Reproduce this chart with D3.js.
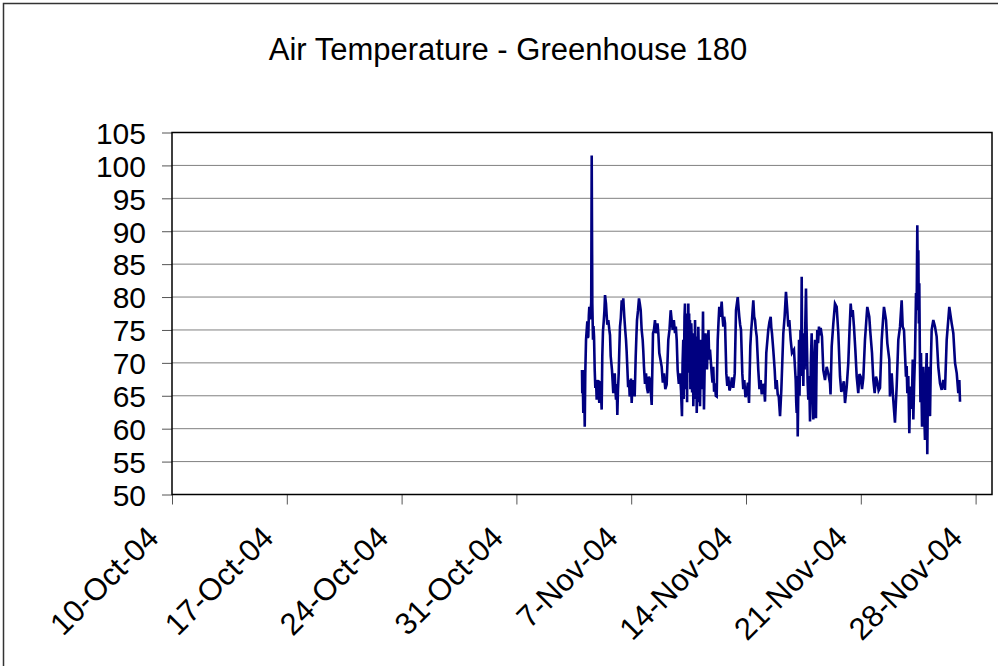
<!DOCTYPE html>
<html>
<head>
<meta charset="utf-8">
<script src="https://cdn.jsdelivr.net/npm/d3@7/dist/d3.min.js"></script>
<style>
	html, body { margin:0; padding:0; background:#fff; overflow:hidden; }
	svg text { font-family: "Liberation Sans", Arial, sans-serif; fill:#000; }
</style>
</head>
<body>
<svg id="chart" width="998" height="666"></svg>
<script>
// chart text
var title = 'Air Temperature - Greenhouse 180';

// axis ticks
var yTicks = [50, 55, 60, 65, 70, 75, 80, 85, 90, 95, 100, 105];
var xTickDates = ['2004-10-10', '2004-10-17', '2004-10-24', '2004-10-31',
	'2004-11-07', '2004-11-14', '2004-11-21', '2004-11-28'];
var xDomain = ['2004-10-10', '2004-11-29'];

// readings: [hours after 4-Nov-04 00:00, air temperature]
var startTime = '2004-11-04';
var readings = [
	[0.0,68.9],[0.4,65.4],[1.0,68.4],[1.9,62.4],[2.9,68.9],[4.0,60.3],[4.8,68.4],[5.9,73.5],[7.8,76.3],[8.5,73.8],
	[9.2,74.0],[10.0,77.2],[10.7,78.5],[11.7,76.6],[12.7,78.0],[13.5,79.2],[14.2,101.5],[15.1,79.0],[16.1,73.5],[16.8,75.6],
	[17.6,74.0],[18.6,68.9],[19.5,66.2],[20.5,67.4],[21.5,64.4],[22.4,66.6],[23.4,67.4],[24.3,65.8],[25.3,63.9],[26.3,67.0],
	[27.4,66.9],[28.1,64.5],[28.8,62.9],[29.7,71.0],[30.7,74.8],[31.8,76.3],[32.8,77.9],[33.7,80.3],[35.1,79.0],[36.0,77.4],
	[37.0,75.8],[38.5,76.5],[40.0,75.0],[41.0,74.2],[42.0,71.0],[43.9,68.9],[44.8,67.2],[45.8,65.4],[46.8,67.5],[47.9,68.4],
	[48.8,66.0],[49.8,64.4],[50.8,66.8],[51.7,62.1],[52.7,66.0],[53.7,68.4],[54.6,72.0],[55.6,75.5],[56.8,76.8],[58.1,79.5],
	[59.2,78.0],[60.4,79.8],[61.9,77.0],[63.1,75.2],[64.4,73.5],[65.3,71.8],[66.3,69.4],[67.5,66.3],[68.8,67.4],[69.8,64.9],
	[70.7,65.4],[71.7,67.6],[72.7,63.9],[73.9,66.8],[75.1,67.4],[76.1,65.8],[77.1,64.9],[78.6,71.0],[79.6,74.0],[80.5,76.5],
	[82.0,78.0],[83.4,79.8],[84.6,79.0],[85.9,78.0],[87.3,75.0],[88.8,73.5],[89.7,71.8],[90.7,69.4],[92.2,66.8],[93.7,68.4],
	[95.1,66.2],[96.6,65.4],[98.0,67.9],[99.5,67.4],[100.8,65.5],[102.0,63.6],[103.9,74.5],[105.3,75.0],[106.8,76.5],[108.0,74.5],
	[109.3,75.5],[110.5,76.0],[111.7,74.5],[113.1,71.5],[114.8,70.5],[116.6,69.4],[118.3,67.0],[120.0,68.4],[121.9,66.0],[123.9,66.7],
	[126.3,73.5],[128.0,75.0],[129.8,78.0],[131.2,76.5],[132.7,75.0],[134.4,76.5],[136.1,74.5],[137.3,75.5],[138.6,73.5],[140.0,68.9],
	[141.7,66.8],[143.4,68.4],[144.9,65.8],
	[146.3,61.9],[147.2,70.0],[148.2,73.5],[148.8,64.5],[149.4,71.0],[150.0,77.0],[150.7,79.0],[151.3,66.0],[151.9,72.5],[152.5,77.5],
	[153.2,68.4],[153.8,64.0],[154.4,75.0],[155.0,70.0],[155.6,79.0],[156.2,72.0],[156.8,77.5],[157.4,68.5],[158.0,76.5],[158.6,66.0],
	[159.2,70.5],[159.9,76.0],[160.5,74.0],[161.1,65.5],[161.7,68.0],[162.3,74.5],[162.9,63.4],[163.5,67.0],[164.1,71.0],[164.8,64.5],
	[165.4,76.5],[166.0,73.0],[166.6,69.5],[167.2,74.0],[167.9,62.4],[168.5,66.5],[169.0,70.0],[169.6,64.0],[170.2,75.5],[170.9,72.0],
	[171.5,68.0],[172.1,73.5],[172.7,63.4],[173.4,68.0],[174.0,70.5],[174.6,66.0],[175.2,73.5],[176.2,70.0],[177.1,77.8],[177.8,69.0],
	[178.5,62.9],[179.6,70.0],[180.7,74.5],[181.8,72.0],[182.9,69.0],[184.0,73.0],[185.1,75.0],[186.2,70.5],[187.3,72.0],
	[189.8,68.4],[191.0,67.0],[192.1,69.4],[193.3,65.6],[194.6,66.9],[195.8,65.0],[197.1,64.9],[198.6,73.5],[199.7,76.0],[200.9,78.5],
	[202.6,77.0],[204.4,79.3],[205.6,77.0],[206.8,75.5],[208.0,77.0],[209.3,76.0],[211.2,68.4],[212.6,66.5],[214.1,67.9],[215.8,65.8],
	[217.6,66.4],[219.5,67.8],[221.4,66.2],[223.5,68.4],[225.4,78.0],[227.9,80.0],[229.0,78.5],[230.2,77.0],[231.4,75.8],[232.7,75.0],
	[234.6,68.4],[236.0,66.0],[237.5,67.4],[239.2,64.8],[241.0,65.4],[242.7,67.0],[244.4,63.9],[246.3,72.5],[247.5,74.8],[248.8,76.5],
	[249.7,78.0],[250.7,79.5],[252.0,77.0],[253.2,76.5],[254.4,75.0],[255.7,74.0],[258.0,68.9],[259.7,66.0],[261.5,67.4],[263.0,65.2],
	[264.4,66.4],[266.1,66.8],[267.8,64.1],[269.7,71.5],[272.6,75.0],[274.3,76.2],[276.1,77.0],[277.0,75.4],[278.0,74.5],[279.9,72.0],
	[282.0,68.9],[283.4,66.0],[284.9,67.4],[286.4,65.2],[287.9,64.9],[289.8,61.9],[291.7,65.9],[294.6,74.5],[296.5,77.0],[298.5,80.8],
	[300.4,78.0],[301.9,75.5],[303.4,76.5],[305.4,73.5],[307.3,71.5],[310.2,72.0],
	[312.7,67.4],[313.5,64.0],[314.2,62.4],[315.0,68.0],[315.7,58.8],[316.6,66.0],[317.6,73.5],[318.3,65.0],[319.0,69.4],[319.8,75.0],
	[320.6,68.0],[321.5,83.1],[322.2,70.0],[323.0,73.5],[323.9,66.5],[324.9,74.5],[325.8,69.0],[326.8,76.0],[327.8,81.3],[328.5,76.0],
	[329.3,72.0],[330.2,67.0],[331.2,64.4],[332.4,68.0],[333.7,61.1],[334.9,70.0],[336.1,74.5],[337.3,66.0],[338.5,61.4],[339.7,70.0],
	[341.0,73.5],[341.7,66.0],[342.4,61.6],[343.3,70.0],[344.3,75.0],[345.5,73.0],[346.8,75.5],
	[348.0,74.2],[349.3,75.3],[351.2,74.0],[353.1,68.9],[355.6,67.4],[358.1,69.4],[360.4,68.4],[362.9,66.9],[363.7,65.2],[365.4,72.5],
	[367.8,76.0],[370.2,79.0],[372.7,78.5],[375.1,74.5],[377.6,67.9],[379.5,65.6],[381.5,66.4],[383.2,67.2],[384.9,63.9],[387.4,66.4],
	[389.7,70.0],[391.5,75.0],[393.2,79.0],[394.7,77.0],[396.2,78.0],[398.0,75.5],[400.0,72.0],[402.0,67.9],[404.3,65.4],[406.0,68.3],
	[407.8,67.9],[409.8,66.0],[411.7,67.7],[414.1,73.5],[415.8,76.0],[417.5,78.5],[420.4,77.0],[421.9,74.7],[424.4,71.5],[426.3,67.4],
	[428.3,65.4],[430.2,67.9],[432.1,67.2],[434.1,65.8],[436.1,66.2],[438.6,73.5],[440.2,76.0],[441.9,78.5],[444.9,76.5],[446.8,73.0],
	[449.7,70.5],[450.7,64.9],[453.2,68.4],[455.5,64.4],[458.0,60.9],[460.5,66.4],[462.9,73.5],[465.4,75.5],[467.8,79.5],[469.3,75.5],
	[471.2,75.0],
	[474.1,67.9],[475.1,69.5],[476.1,65.4],[477.5,68.0],[479.0,59.3],[480.0,64.5],[481.1,66.4],[482.5,63.0],[484.0,70.5],[484.9,61.4],
	[486.1,67.0],[487.3,71.0],[488.0,75.5],[488.8,80.6],[489.7,78.0],[490.7,90.9],[491.4,82.0],[492.2,87.1],[492.9,76.0],[493.6,82.1],
	[494.6,69.4],[495.3,64.0],[496.1,71.5],[496.8,66.0],[497.6,60.3],[498.5,66.0],[499.5,69.4],[500.7,63.0],[501.9,58.3],[503.1,67.0],
	[504.4,71.5],[505.3,56.1],[506.0,64.0],[506.7,69.4],[508.0,65.0],[509.3,61.9],[510.5,70.0],[511.7,75.0],
	[514.1,76.5],[516.6,75.5],[519.0,74.0],[521.4,69.4],[523.9,66.9],[526.4,65.9],[528.7,67.4],[531.2,65.9],[533.7,73.5],[535.6,76.0],
	[537.5,78.5],[541.0,76.0],[543.4,74.5],[545.9,70.0],[548.4,68.4],[550.7,65.4],[552.2,67.4],[553.2,64.1]
];

var svg = d3.select('#chart');
var parseDay = d3.timeParse('%Y-%m-%d');
var fmt = d3.timeFormat('%-d-%b-%y');

var plot = {left:172, right:992, top:132.5, bottom:494.5};

var x = d3.scaleTime()
	.domain(xDomain.map(parseDay))
	.range([plot.left, plot.right]);
var y = d3.scaleLinear()
	.domain([50, 105])
	.range([plot.bottom, plot.top]);

var t0 = parseDay(startTime);
var data = readings.map(function(r){
	return {t: new Date(t0.getTime() + r[0] * 3600000), v: r[1]};
});

// outer chart border
svg.append('rect')
	.attr('x', 3.5).attr('y', 3.5)
	.attr('width', 1010).attr('height', 680)
	.attr('fill', 'none')
	.attr('stroke', '#333')
	.attr('stroke-width', 1.5);

// title
svg.append('text')
	.attr('x', 508).attr('y', 59.5)
	.attr('text-anchor', 'middle')
	.style('font-size', '31px')
	.text(title);

// gridlines
svg.append('g').selectAll('line')
	.data(yTicks.slice(1, -1))
	.enter().append('line')
	.attr('x1', plot.left).attr('x2', plot.right)
	.attr('y1', function(d){ return y(d); })
	.attr('y2', function(d){ return y(d); })
	.attr('stroke', '#808080')
	.attr('stroke-width', 1);

// y axis
var yAxis = svg.append('g')
	.attr('transform', 'translate(' + plot.left + ',0)')
	.call(d3.axisLeft(y).tickValues(yTicks).tickSize(10).tickPadding(16));
yAxis.select('.domain').remove();
yAxis.selectAll('.tick line').attr('stroke', '#555');
yAxis.selectAll('text')
	.style('font-size', '30px')
	.attr('dy', '0.36em');

// x axis
var xAxis = svg.append('g')
	.attr('transform', 'translate(0,' + plot.bottom + ')')
	.call(d3.axisBottom(x).tickValues(xTickDates.map(parseDay)).tickSize(10).tickFormat(fmt));
xAxis.select('.domain').remove();
xAxis.selectAll('.tick line').attr('stroke', '#555');
xAxis.selectAll('text')
	.style('font-size', '31px')
	.attr('text-anchor', 'end')
	.attr('y', 0).attr('dy', 0)
	.attr('transform', 'translate(-12,45) rotate(-45)');

// plot frame
svg.append('rect')
	.attr('x', plot.left).attr('y', plot.top)
	.attr('width', plot.right - plot.left)
	.attr('height', plot.bottom - plot.top)
	.attr('fill', 'none')
	.attr('stroke', '#000')
	.attr('stroke-width', 1.5);

// series
var line = d3.line()
	.x(function(d){ return x(d.t); })
	.y(function(d){ return y(d.v); });
svg.append('path')
	.datum(data)
	.attr('d', line)
	.attr('fill', 'none')
	.attr('stroke', '#000080')
	.attr('stroke-width', 2.6)
	.attr('stroke-linejoin', 'miter');
</script>
</body>
</html>
